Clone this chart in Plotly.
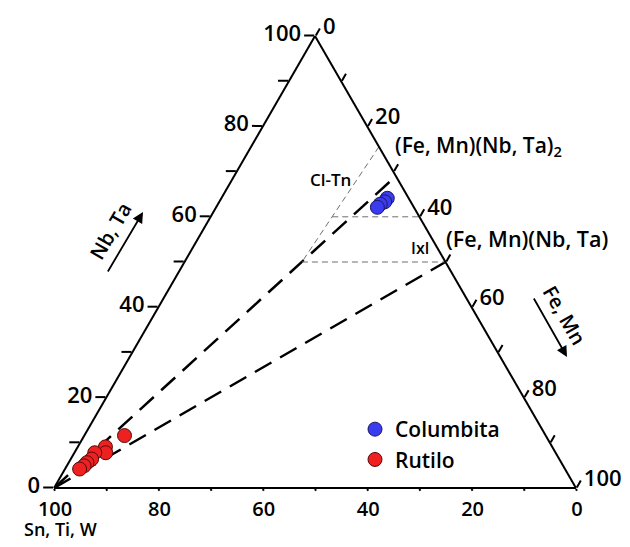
import plotly.graph_objects as go

# ---------------- data (percent): a = Nb,Ta ; b = Sn,Ti,W ; c = Fe,Mn ----------------
columbita_nbta = [64.1, 63.3, 62.8, 62.1]
columbita_sntiw = [4.1, 5.0, 6.1, 7.0]
columbita_femn = [31.8, 31.7, 31.1, 30.9]

rutilo_nbta = [11.6, 9.1, 7.8, 7.8, 6.4, 5.6, 4.9, 4.2]
rutilo_sntiw = [80.7, 85.6, 86.2, 88.3, 89.6, 90.9, 91.8, 93.0]
rutilo_femn = [7.7, 5.3, 6.0, 3.9, 4.0, 3.5, 3.3, 2.8]

# reference lines (start, end) compositions
line_fm_nt2_nbta = [0, 69]
line_fm_nt2_sntiw = [100, 0]
line_fm_nt2_femn = [0, 31]

line_fm_nt_nbta = [0, 50]
line_fm_nt_sntiw = [100, 0]
line_fm_nt_femn = [0, 50]

cltn_nbta = [75.5, 50]
cltn_sntiw = [0, 27.5]
cltn_femn = [24.5, 22.5]

h60_nbta = [60, 60]
h60_sntiw = [16.7, 0]
h60_femn = [23.3, 40]

h50_nbta = [50, 50]
h50_sntiw = [27.5, 0]
h50_femn = [22.5, 50]

tick_vals = [0, 10, 20, 30, 40, 50, 60, 70, 80, 90, 100]
tick_text = ["0", "", "20", "", "40", "", "60", "", "80", "", "100"]

# page body has an 8px margin; the figure fills the rest of the 630x547 window
OFF = 8
W, H = 630 - 2 * OFF, 547 - 2 * OFF
FONT = "Open Sans"
WEIGHT = 600


def px(x):
    return (x - OFF) / W


def py(y):
    return 1 - (y - OFF) / H


def fnt(size):
    return dict(family=FONT, size=size, color="black", weight=WEIGHT)


fig = go.Figure()

thick = dict(color="black", width=2.5, dash="19px,10px")
thin = dict(color="#6e6e6e", width=1, dash="6px,4px")

for a, b, c, ln in [
    (line_fm_nt2_nbta, line_fm_nt2_sntiw, line_fm_nt2_femn, thick),
    (line_fm_nt_nbta, line_fm_nt_sntiw, line_fm_nt_femn, thick),
    (cltn_nbta, cltn_sntiw, cltn_femn, thin),
    (h60_nbta, h60_sntiw, h60_femn, thin),
    (h50_nbta, h50_sntiw, h50_femn, thin),
]:
    fig.add_trace(go.Scatterternary(a=a, b=b, c=c, mode="lines", line=ln,
                                    showlegend=False, hoverinfo="skip"))

fig.add_trace(go.Scatterternary(
    a=columbita_nbta, b=columbita_sntiw, c=columbita_femn, mode="markers",
    name="Columbita",
    marker=dict(size=14, color="#3b3bf0", line=dict(color="#1a1a60", width=1))))
fig.add_trace(go.Scatterternary(
    a=rutilo_nbta, b=rutilo_sntiw, c=rutilo_femn, mode="markers",
    name="Rutilo",
    marker=dict(size=14, color="#ee2020", line=dict(color="#5a0a0a", width=1))))


def axis(ticklen, size):
    return dict(
        tickmode="array", tickvals=tick_vals, ticktext=tick_text,
        ticks="outside", ticklen=ticklen, tickwidth=1.5, tickcolor="black",
        linecolor="black", linewidth=2, showgrid=False,
        tickfont=fnt(size),
        title=dict(text=""), min=0,
    )


fig.update_layout(
    width=W, height=H,
    margin=dict(l=0, r=0, t=0, b=0),
    paper_bgcolor="white",
    font=fnt(20),
    ternary=dict(
        sum=100,
        domain=dict(x=[px(54), px(576)], y=[py(488), py(36)]),
        bgcolor="white",
        aaxis=axis(10, 22),
        baxis=axis(2, 20),
        caxis=axis(8, 22),
    ),
    legend=dict(x=px(355), y=py(409), xanchor="left", yanchor="top",
                font=fnt(21),
                bgcolor="rgba(0,0,0,0)", itemsizing="trace"),
    showlegend=True,
)

annotations = [
    dict(x=px(393), y=py(146), text="(Fe, Mn)(Nb, Ta)<sub>2</sub>", xanchor="left",
         yanchor="middle", font=fnt(21)),
    dict(x=px(444), y=py(238), text="(Fe, Mn)(Nb, Ta)", xanchor="left",
         yanchor="middle", font=fnt(21.5)),
    dict(x=px(330), y=py(179), text="Cl-Tn", xanchor="center", yanchor="middle",
         font=fnt(17)),
    dict(x=px(420), y=py(248), text="Ixl", xanchor="center", yanchor="middle",
         font=fnt(16)),
    dict(x=px(60), y=py(543), text="Sn, Ti, W", xanchor="center", yanchor="bottom",
         font=fnt(18)),
    dict(x=px(111), y=py(231), text="Nb, Ta", textangle=-60, xanchor="center",
         yanchor="middle", font=fnt(20)),
    dict(x=px(565), y=py(315), text="Fe, Mn", textangle=60, xanchor="center",
         yanchor="middle", font=fnt(20)),
    dict(x=px(143), y=py(212), text="", showarrow=True, ax=-36, ay=61,
         arrowhead=2, arrowsize=1.2, arrowwidth=1.8, arrowcolor="black"),
    dict(x=px(567), y=py(357), text="", showarrow=True, ax=-34, ay=-60,
         arrowhead=2, arrowsize=1.2, arrowwidth=1.8, arrowcolor="black"),
]
for an in annotations:
    an.setdefault("showarrow", False)
    an["xref"] = "paper"
    an["yref"] = "paper"
    fig.add_annotation(**an)

fig.write_html("out.html")
